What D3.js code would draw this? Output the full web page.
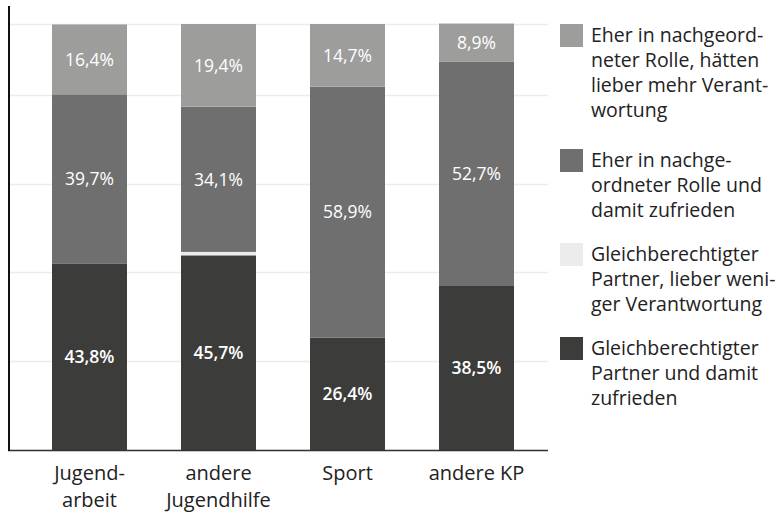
<!DOCTYPE html>
<html>
<head>
<meta charset="utf-8">
<script src="https://cdn.jsdelivr.net/npm/d3@7"></script>
<style>
  html, body { margin: 0; padding: 0; background: #fff; }
  svg { display: block; font-family: "Open Sans", sans-serif; }
</style>
</head>
<body>
<svg id="chart" width="777" height="514"></svg>
<script>
// ---- data ----
const categories = [["Jugend-", "arbeit"], ["andere", "Jugendhilfe"], ["Sport"], ["andere KP"]];
const categoryKeys = ["Jugendarbeit", "andere Jugendhilfe", "Sport", "andere KP"];
const seriesNames = [
  "Gleichberechtigter Partner und damit zufrieden",
  "Gleichberechtigter Partner, lieber weniger Verantwortung",
  "Eher in nachgeordneter Rolle und damit zufrieden",
  "Eher in nachgeordneter Rolle, hätten lieber mehr Verantwortung"
];
const gleichZufrieden = [43.8, 45.7, 26.4, 38.5];
const gleichWeniger   = [0, 0.8, 0, 0];
const nachZufrieden   = [39.7, 34.1, 58.9, 52.7];
const nachMehr        = [16.4, 19.4, 14.7, 8.9];
const seriesValues = [gleichZufrieden, gleichWeniger, nachZufrieden, nachMehr];
const seriesShowLabel = [true, false, true, true];
const gridTicks = [0, 20.83, 41.67, 62.5, 83.33, 100];
const legendLines = [
  ["Eher in nachgeord-", "neter Rolle, hätten", "lieber mehr Verant-", "wortung"],
  ["Eher in nachge-", "ordneter Rolle und", "damit zufrieden"],
  ["Gleichberechtigter", "Partner, lieber weni-", "ger Verantwortung"],
  ["Gleichberechtigter", "Partner und damit", "zufrieden"]
];
const legendSeries = [3, 2, 1, 0];

// ---- style ----
const colors = ["#3c3c3b", "#ececec", "#6f6f6f", "#9d9d9c"];
const svg = d3.select("#chart");
const plot = { left: 10, right: 556, top: 24, bottom: 450 };

const x = d3.scaleBand().domain(categoryKeys)
  .range([plot.left, plot.right]).paddingInner(0.4186).paddingOuter(0.3256);
const y = d3.scaleLinear().domain([0, 100]).range([plot.bottom, plot.top]);

// gridlines
svg.append("g").selectAll("line").data(gridTicks).join("line")
  .attr("x1", plot.left).attr("x2", 548)
  .attr("y1", d => Math.round(y(d)) + 0.5).attr("y2", d => Math.round(y(d)) + 0.5)
  .attr("stroke", "#ececec").attr("stroke-width", 1.5);

// stacked data
const rows = categoryKeys.map((k, i) => {
  const r = { key: k };
  seriesNames.forEach((s, j) => r[s] = seriesValues[j][i]);
  return r;
});
const stack = d3.stack().keys(seriesNames)(rows);

const layers = svg.append("g").selectAll("g").data(stack).join("g")
  .attr("fill", (d, i) => colors[i]);
layers.selectAll("rect").data(d => d).join("rect")
  .attr("x", d => x(d.data.key))
  .attr("width", x.bandwidth())
  .attr("y", d => y(d[1]))
  .attr("height", d => y(d[0]) - y(d[1]));

// value labels
stack.forEach((layer, i) => {
  if (!seriesShowLabel[i]) return;
  svg.append("g").selectAll("text").data(layer).join("text")
    .attr("x", d => x(d.data.key) + x.bandwidth() / 2)
    .attr("y", d => (y(d[0]) + y(d[1])) / 2)
    .attr("dy", "0.36em")
    .attr("text-anchor", "middle")
    .attr("fill", "#fff")
    .attr("font-size", 17.5)
    .attr("font-weight", i === 0 ? 600 : 500)
    .text(d => (d[1] - d[0]).toFixed(1).replace(".", ",") + "%");
});

// axes lines
svg.append("line").attr("x1", 8).attr("x2", 548)
  .attr("y1", plot.bottom + 0.5).attr("y2", plot.bottom + 0.5)
  .attr("stroke", "#333").attr("stroke-width", 1.5);
svg.append("line").attr("x1", 9).attr("x2", 9)
  .attr("y1", 6).attr("y2", plot.bottom + 1)
  .attr("stroke", "#111").attr("stroke-width", 2);

// category labels
const catG = svg.append("g").selectAll("text").data(categoryKeys).join("text")
  .attr("x", d => x(d) + x.bandwidth() / 2)
  .attr("y", 480)
  .attr("text-anchor", "middle")
  .attr("font-size", 20)
  .attr("fill", "#222");
catG.each(function(d, i) {
  d3.select(this).selectAll("tspan").data(categories[i]).join("tspan")
    .attr("x", x(d) + x.bandwidth() / 2)
    .attr("dy", (t, j) => j === 0 ? 0 : 27)
    .text(t => t);
});

// legend
const legendTops = [24, 149, 243, 337];
const lg = svg.append("g").selectAll("g").data(legendLines).join("g")
  .attr("transform", (d, i) => `translate(560,${legendTops[i]})`);
lg.append("rect").attr("width", 23).attr("height", 23)
  .attr("fill", (d, i) => colors[legendSeries[i]]);
lg.append("text").attr("x", 31).attr("y", 18)
  .attr("font-size", 19.5).attr("fill", "#222")
  .selectAll("tspan").data(d => d).join("tspan")
  .attr("x", 31).attr("dy", (t, j) => j === 0 ? 0 : 25)
  .text(t => t);
</script>
</body>
</html>
